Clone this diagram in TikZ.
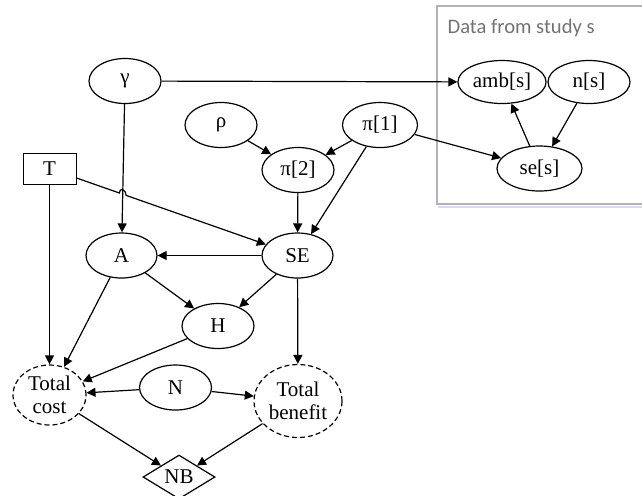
\documentclass[tikz,border=0pt]{standalone}
\usepackage{fontspec}
\setmainfont{Liberation Serif}
\newfontfamily\platefont{Carlito}
\usepackage{tikz}
\usetikzlibrary{intersections, calc}
\usetikzlibrary{shapes.geometric, arrows.meta}

\begin{document}
\begin{tikzpicture}[x=0.5pt, y=-0.5pt, line width=0.6pt, font=\fontsize{10.5}{12}\selectfont,
        var/.style={ellipse, draw, minimum width=36pt, minimum height=22.5pt, inner sep=1pt},
        logical/.style={ellipse, draw, dash pattern=on 2.5pt off 1.5pt, align=center,
            inner sep=0pt, font=\fontsize{10.5}{11.5}\selectfont},
        link/.style={-{Triangle[length=4.5pt, width=4.5pt]}}]
            \useasboundingbox (0,0) rectangle (642,495);

            % plate for the study data
            \draw[gray!60, line width=0.8pt] (646,6) -- (437,6) -- (437,204) -- (646,204);
            \draw[blue!15, line width=1pt] (438,206.5) -- (642,206.5);
            \node[anchor=base west, inner sep=0pt, text=black!55,
                font=\platefont\fontsize{10.3}{12}\selectfont] (plate) at (447,33) {Data from study s};

            \node[var] (gam) at (125,81) {γ};
            \node[var] (rho) at (221,125) {ρ};
            \node[var] (pi2) at (298,170) {π[2]};
            \node[var, minimum width=37.5pt] (pi1) at (380,125) {π[1]};
            \node[var, minimum width=44pt, minimum height=21.5pt] (amb) at (502,82) {amb[s]};
            \node[var, minimum width=41pt, minimum height=21.5pt] (ns) at (589,82) {n[s]};
            \node[var, minimum width=42.5pt] (ses) at (539.5,168.5) {se[s]};

            \node[draw, line width=0.5pt, minimum width=26.5pt, minimum height=15.5pt] (T) at (49.5,168.5) {T};
            \node[var, minimum width=35.5pt] (A) at (121.5,255.5) {A};
            \node[var, minimum width=35.5pt] (SE) at (297.5,255.5) {SE};
            \node[var] (H) at (218,326) {H};
            \node[var] (N) at (175.5,387.5) {N};

            \node[logical, minimum width=36.5pt, minimum height=30pt] (cost) at (49.5,395) {Total\\cost};
            \node[logical, minimum width=44pt, minimum height=36.5pt] (benefit) at (298,401) {Total\\benefit};
            \node[diamond, draw, minimum width=36pt, minimum height=22pt, inner sep=0pt] (NB) at (179,477) {NB};

            \draw[link] (gam) -- (amb);
            \draw[link, name path=gamA] (gam) -- (A);
            \draw[link] (rho) -- (pi2);
            \draw[link] (pi1) -- (pi2);
            \draw[link] (pi1) -- (ses);
            \draw[link] (pi1) -- (SE);
            \draw[link] (pi2) -- (SE);
            \draw[link] (ses) -- (amb);
            \draw[link] (ns) -- (ses);

            \draw[link] (SE) -- (A);
            \draw[link] (SE) -- (H);
            \draw[link] (A) -- (H);
            \draw[link] (SE) -- (benefit);
            \draw[link] (T) -- (cost);
            \draw[link] (A) -- (cost);
            \draw[link] (H) -- (cost);
            \draw[link] (N) -- (cost);
            \draw[link] (N) -- (benefit);
            \draw[link] (cost) -- (NB);
            \draw[link] (benefit) -- (NB);

            % T to SE jumps over the line from gamma
            \path[name path=TSE] (T) -- (SE);
            \path[name intersections={of=TSE and gamA, by=hop}];
            \draw[link] (T) -- ($(hop)!1.8pt!(T)$) .. controls +(0pt,3pt) and +(0pt,3pt) .. ($(hop)!1.8pt!(SE)$) -- (SE);
        \end{tikzpicture}
\end{document}
